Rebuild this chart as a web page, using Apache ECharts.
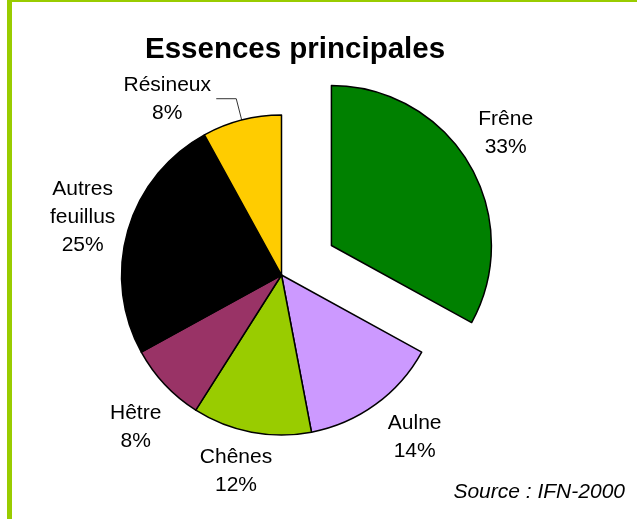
<!DOCTYPE html>
<html>
<head>
<meta charset="utf-8">
<script src="https://cdn.jsdelivr.net/npm/echarts@6.0.0/dist/echarts.min.js"></script>
<style>
html, body { margin: 0; padding: 0; background: #fff; }
#main { width: 637px; height: 519px; }
</style>
</head>
<body>
<div id="main"></div>
<script>
// données
var essences = ['Frêne', 'Aulne', 'Chênes', 'Hêtre', 'Autres\nfeuillus', 'Résineux'];
var parts = [33, 14, 12, 8, 25, 8];

// styles
var couleurs = ['#008000', '#CC99FF', '#99CC00', '#993366', '#000000', '#FFCC00'];
// longueur du trait (seul Résineux l'affiche) et écart du texte
var traitLong = [61, 41, 40, 62, 46, 22];
var traitLong2 = [0, 0, 0, 0, 0, 20];
var ecartTexte = [-16, 15, 8, -16, 1, 49];

var police = 'Liberation Sans, Arial, sans-serif';

var pieData = essences.map(function (nom, i) {
    return {
        name: nom,
        value: parts[i],
        selected: i === 0,
        itemStyle: { color: couleurs[i] },
        label: { distanceToLabelLine: ecartTexte[i] },
        labelLine: { show: i === 5, length: traitLong[i], length2: traitLong2[i] }
    };
});

var chart = echarts.init(document.getElementById('main'));
var option = {
    animation: false,
    backgroundColor: '#fff',
    title: [{
        text: 'Essences principales',
        left: 145,
        top: 35,
        padding: 0,
        textStyle: { fontSize: 29.5, fontWeight: 'bold', color: '#000', fontFamily: police }
    }, {
        text: 'Source : IFN-2000',
        right: 12,
        top: 482,
        padding: 0,
        textStyle: { fontSize: 21, fontWeight: 'normal', fontStyle: 'italic', color: '#000', fontFamily: police }
    }],
    graphic: [
        { type: 'rect', shape: { x: 7, y: 0, width: 5, height: 519 }, style: { fill: '#99CC00' } },
        { type: 'rect', shape: { x: 7, y: 0, width: 630, height: 2 }, style: { fill: '#99CC00' } }
    ],
    series: [{
        type: 'pie',
        center: [281.5, 275],
        radius: 160,
        startAngle: 90,
        clockwise: true,
        selectedMode: 'single',
        selectedOffset: 58,
        avoidLabelOverlap: false,
        itemStyle: { borderColor: '#000', borderWidth: 1.5 },
        select: { itemStyle: { borderColor: '#000', borderWidth: 1.5 } },
        emphasis: { disabled: true },
        label: {
            position: 'outside',
            formatter: function (p) { return p.name + '\n' + p.value + '%'; },
            fontSize: 21,
            lineHeight: 28,
            color: '#000',
            fontFamily: police
        },
        labelLine: { lineStyle: { color: '#333', width: 1 } },
        labelLayout: function () {
            return { align: 'center', verticalAlign: 'middle' };
        },
        data: pieData
    }]
};
chart.setOption(option);
</script>
</body>
</html>
